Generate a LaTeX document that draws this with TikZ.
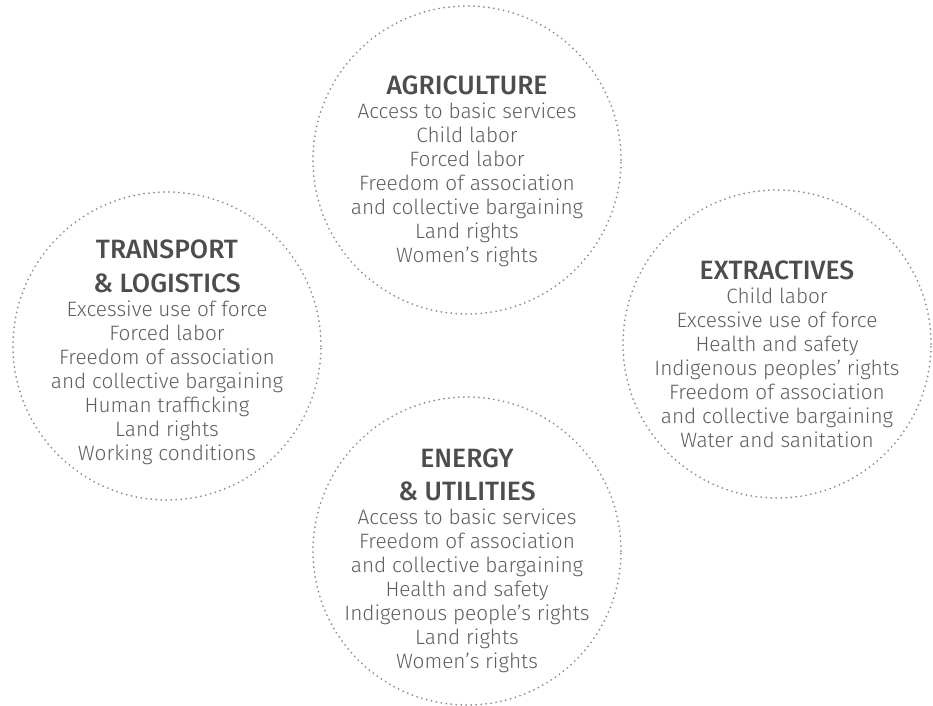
\documentclass[tikz,border=0pt]{standalone}
\usepackage{fontspec}
\setmainfont{Fira Sans Light}
\newfontfamily\headfont{Fira Sans Medium}

\definecolor{dotgray}{HTML}{8E8E8E}
\definecolor{headgray}{HTML}{4D4D4D}
\definecolor{bodygray}{HTML}{5E5E5E}

\tikzset{
  sector/.style={circle, draw=dotgray, line width=2pt,
    dash pattern=on 0pt off 5pt, line cap=round,
    minimum size=308pt, inner sep=0pt},
  issues/.style={anchor=north, align=center, inner sep=0pt,
    text=bodygray, font=\fontsize{20.8}{24}\selectfont}
}
\newcommand{\sectorhead}[1]{{\headfont\fontsize{26.5}{24}\selectfont\color{headgray}#1}}

\begin{document}
\begin{tikzpicture}[x=1pt,y=-1pt]
    % Поле
    \useasboundingbox (0,0) rectangle (933,705);

    % Круги отраслей
    \node[sector] (agri)   at (467,160) {};
    \node[sector] (trans)  at (167,346) {};
    \node[sector] (extr)   at (777,344) {};
    \node[sector] (energy) at (467,551) {};

    % Сельское хозяйство
    \node[issues] (agri-text) at ([yshift=84pt]agri.center) {
        \sectorhead{AGRICULTURE}\\
        Access to basic services\\
        Child labor\\
        Forced labor\\
        Freedom of association\\
        and collective bargaining\\
        Land rights\\
        Women’s rights};

    % Транспорт
    \node[issues] (trans-text) at ([yshift=106pt]trans.center) {
        \sectorhead{TRANSPORT}\\[10pt]
        \sectorhead{\& LOGISTICS}\\
        Excessive use of force\\
        Forced labor\\
        Freedom of association\\
        and collective bargaining\\
        Human trafficking\\
        Land rights\\
        Working conditions};

    % Добыча
    \node[issues] (extr-text) at ([yshift=83pt]extr.center) {
        \sectorhead{EXTRACTIVES}\\
        Child labor\\
        Excessive use of force\\
        Health and safety\\
        Indigenous peoples’ rights\\
        Freedom of association\\
        and collective bargaining\\
        Water and sanitation};

    % Энергетика
    \node[issues] (energy-text) at ([yshift=102pt]energy.center) {
        \sectorhead{ENERGY}\\[9pt]
        \sectorhead{\& UTILITIES}\\
        Access to basic services\\
        Freedom of association\\
        and collective bargaining\\
        Health and safety\\
        Indigenous people’s rights\\
        Land rights\\
        Women’s rights};
\end{tikzpicture}
\end{document}
